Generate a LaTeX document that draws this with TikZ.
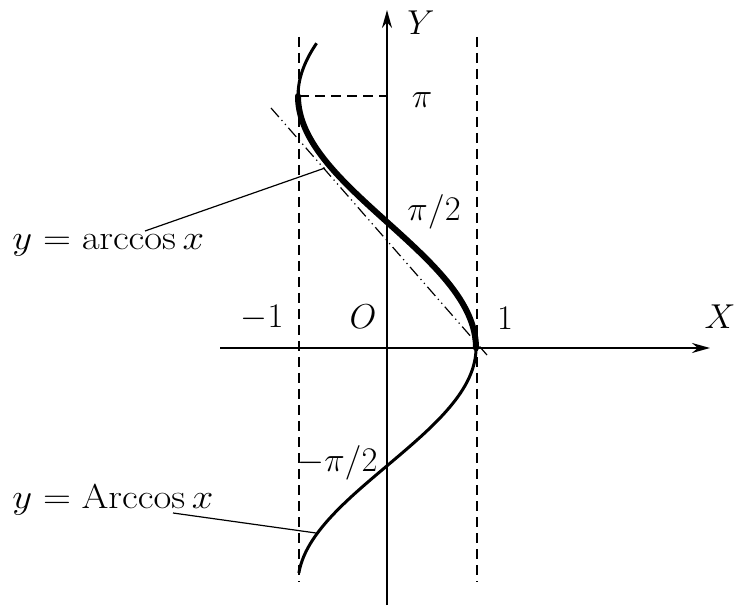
\documentclass[tikz,border=0pt]{standalone}
\usepackage{graphicx}
\usetikzlibrary{arrows.meta}
\begin{document}
\begin{tikzpicture}[x=0.5pt,y=-0.5pt,
  lbl/.style={inner sep=0pt,font=\fontsize{17}{20}\selectfont},
  axis/.style={line width=1pt,-{Stealth[length=9pt,width=5pt]}},
  guide/.style={line width=0.8pt,dash pattern=on 5pt off 3pt},
  chord/.style={line width=0.6pt,dash pattern=on 6pt off 2pt on 0.6pt off 2pt on 0.6pt off 2pt},
  thincurve/.style={line width=1.5pt},
  thickcurve/.style={line width=3pt},
  leader/.style={line width=0.6pt}]
\useasboundingbox (0,0) rectangle (734,609);
% axes
\coordinate (xs) at (220,348);
\coordinate (xe) at (710,348);
\coordinate (ys) at (387,605);
\coordinate (ye) at (387,10);
\draw[axis] (xs) -- (xe);
\draw[axis] (ys) -- (ye);
% asymptote guides
\coordinate (l1) at (299,37);
\coordinate (l2) at (299,582);
\coordinate (r1) at (477,37);
\coordinate (r2) at (477,582);
\coordinate (pl) at (299,96);
\coordinate (pr) at (387,96);
\draw[guide] (l1) -- (l2);
\draw[guide] (r1) -- (r2);
\draw[guide] (pl) -- (pr);
% dash-dot line
\coordinate (c1) at (271,108);
\coordinate (c2) at (487,355);
\draw[chord] (c1) -- (c2);
% curves
\draw[thincurve] plot[domain=3.1416:3.8,samples=40] ({387+89*cos(\x r)},{348-80.2*\x});
\draw[thickcurve,line cap=round] plot[domain=0:3.1416,samples=120] ({387+89*cos(\x r)},{348-80.2*\x});
\draw[thincurve] plot[domain=-3.0:0,samples=120] ({387+89*cos(\x r)},{348-75*\x});
% labels
\node[lbl] (Y) at (421,23) {$Y$};
\node[lbl] (X) at (720,317) {$X$};
\node[lbl] (O) at (363,317) {$O$};
\node[lbl] (m1) at (262,318) {$-1$};
\node[lbl] (p1) at (505,318) {$1$};
\node[lbl] (pi) at (422,100) {$\pi$};
\node[lbl] (pih) at (434,212) {$\pi/2$};
\node[lbl,anchor=west] (mpih) at (297,463) {$-\pi/2$};
\node[lbl,anchor=west] (ta) at (12,245) {\scalebox{1.12}[1]{$y=\arccos x$}};
\node[lbl,anchor=west] (tb) at (12,500) {\scalebox{1.12}[1]{$y=\mathrm{Arccos}\,x$}};
% leaders
\coordinate (a1) at (145,231);
\coordinate (a2) at (325,168);
\coordinate (b1) at (173,513);
\coordinate (b2) at (316,533);
\draw[leader] (a1) -- (a2);
\draw[leader] (b1) -- (b2);
\end{tikzpicture}
\end{document}
